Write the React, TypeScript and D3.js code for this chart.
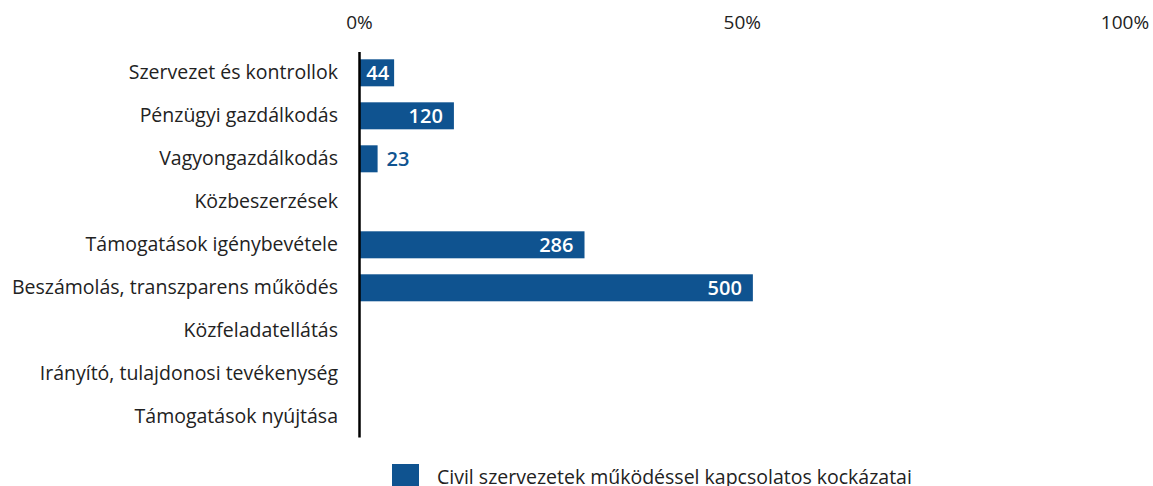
import React from "react";
import * as d3 from "d3";

const categories = [
  "Szervezet és kontrollok",
  "Pénzügyi gazdálkodás",
  "Vagyongazdálkodás",
  "Közbeszerzések",
  "Támogatások igénybevétele",
  "Beszámolás, transzparens működés",
  "Közfeladatellátás",
  "Irányító, tulajdonosi tevékenység",
  "Támogatások nyújtása",
];
const values = [44, 120, 23, 0, 286, 500, 0, 0, 0];
const tickValues = [0, 50, 100];
const seriesName = "Civil szervezetek működéssel kapcsolatos kockázatai";

const W = 1153;
const H = 486;
const FONT = "'Open Sans', sans-serif";
const BAR = "#0f5390";

export default function App() {
  const total = d3.sum(values);
  const x = d3.scaleLinear().domain([0, 100]).range([359.5, 1125]);
  const y = d3
    .scaleBand<string>()
    .domain(categories)
    .range([52, 437.6])
    .paddingInner(0.372)
    .paddingOuter(0.17);
  const bw = y.bandwidth();
  const valFont = 20;
  const digitW = 0.572 * valFont;

  return (
    <svg
      width={W}
      height={H}
      style={{ position: "absolute", left: 0, top: 0, background: "#fff" }}
      fontFamily={FONT}
    >
      {tickValues.map((t) => (
        <text key={t} x={x(t)} y={29} textAnchor="middle" fontSize={19} fill="#222">
          {t}%
        </text>
      ))}
      {categories.map((c, i) => {
        const v = values[i];
        const pct = (v / total) * 100;
        const y0 = y(c)!;
        const cy = y0 + bw / 2;
        const x0 = x(0);
        const x1 = x(pct);
        const w = x1 - x0;
        const tw = String(v).length * digitW;
        let label: React.ReactNode = null;
        if (v > 0) {
          if (tw + 22 <= w) {
            label = (
              <text x={x1 - 11} y={cy} dy="0.36em" textAnchor="end" fontSize={valFont} fontWeight={600} fill="#fff">
                {v}
              </text>
            );
          } else if (tw + 4 <= w) {
            label = (
              <text x={(x0 + x1) / 2 + 1} y={cy} dy="0.36em" textAnchor="middle" fontSize={valFont} fontWeight={600} fill="#fff">
                {v}
              </text>
            );
          } else {
            label = (
              <text x={x1 + 9} y={cy} dy="0.36em" textAnchor="start" fontSize={valFont} fontWeight={600} fill={BAR}>
                {v}
              </text>
            );
          }
        }
        return (
          <g key={c}>
            <text x={338} y={cy} dy="0.33em" textAnchor="end" fontSize={19.5} fill="#222">
              {c}
            </text>
            {v > 0 && <rect x={x0} y={y0} width={w} height={bw} fill={BAR} />}
            {label}
          </g>
        );
      })}
      <line x1={x(0)} x2={x(0)} y1={52} y2={437.6} stroke="#000" strokeWidth={2.5} />
      <rect x={392} y={464} width={27} height={27} fill={BAR} />
      <text x={437} y={484} fontSize={19.5} fill="#222">
        {seriesName}
      </text>
    </svg>
  );
}
